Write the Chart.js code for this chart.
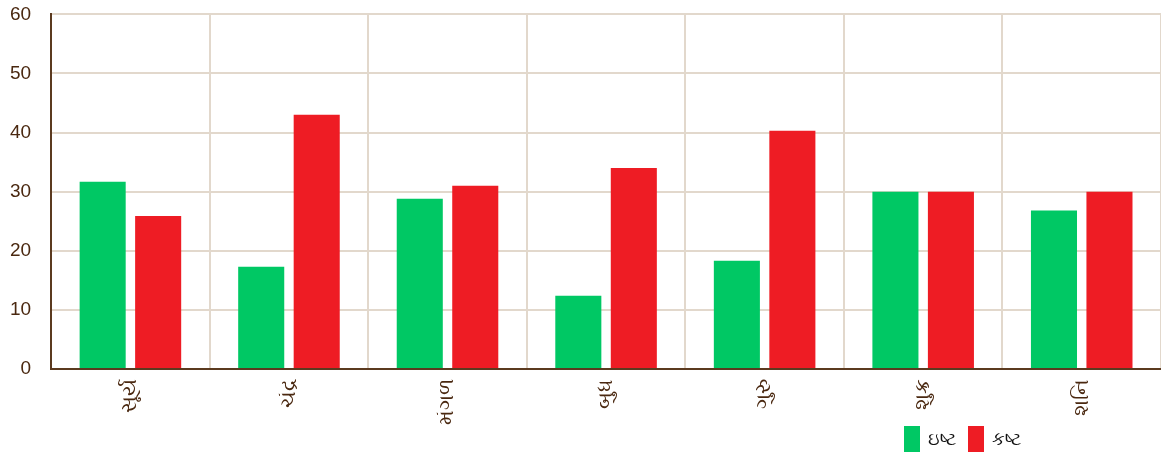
<!DOCTYPE html>
<html>
<head>
<meta charset="utf-8">
<script src="https://cdn.jsdelivr.net/npm/chart.js@4"></script>
<style>
    html, body { margin: 0; padding: 0; background: #ffffff; }
    .wrap { position: relative; width: 1161px; height: 455px; }
    .legend { position: absolute; left: 904px; top: 426px; display: flex; align-items: center; font-family: sans-serif; font-size: 18px; color: #111; }
    .legend .box { width: 16px; height: 26px; margin-right: 8px; }
    .legend .item { display: flex; align-items: center; margin-right: 12px; }
</style>
</head>
<body>
<div class="wrap">
    <canvas id="chart" width="1161" height="455"></canvas>
    <div class="legend" id="legend"></div>
</div>
<script>
'use strict';

// 데이터
const labels = ['સૂર્ય', 'ચંદ્ર', 'મંગળ', 'બુધ', 'ગુરુ', 'શુક્ર', 'શનિ'];
const ishtaValues = [31.7, 17.3, 28.8, 12.4, 18.3, 30.0, 26.8];
const kashtaValues = [25.9, 43.0, 31.0, 34.0, 40.3, 30.0, 30.0];
const seriesNames = ['ઇષ્ટ', 'કષ્ટ'];

const colors = {
    green: '#00c864',
    red: '#ee1c24',
    grid: '#e2d8cc',
    axis: '#5b3a1f',
    tick: '#4a2810'
};

// 범례 (HTML)
const legend = document.getElementById('legend');
[colors.green, colors.red].forEach((c, i) => {
    const item = document.createElement('div');
    item.className = 'item';
    item.innerHTML = `<span class="box" style="background:${c}"></span><span>${seriesNames[i]}</span>`;
    legend.appendChild(item);
});

new Chart(document.getElementById('chart'), {
    type: 'bar',
    data: {
        labels: labels,
        datasets: [{
            label: seriesNames[0],
            data: ishtaValues,
            backgroundColor: colors.green,
            categoryPercentage: 0.7,
            barPercentage: 0.83
        }, {
            label: seriesNames[1],
            data: kashtaValues,
            backgroundColor: colors.red,
            categoryPercentage: 0.7,
            barPercentage: 0.83
        }]
    },
    options: {
        responsive: false,
        animation: false,
        layout: {
            padding: { top: 3, right: 0, bottom: 20, left: 7 }
        },
        plugins: {
            legend: { display: false },
            tooltip: { enabled: false }
        },
        scales: {
            x: {
                grid: {
                    color: colors.grid,
                    lineWidth: 2,
                    drawTicks: false,
                    offset: true
                },
                border: { color: colors.axis, width: 2 },
                ticks: {
                    color: colors.tick,
                    font: { size: 21 },
                    minRotation: 90,
                    maxRotation: 90,
                    padding: 10
                }
            },
            y: {
                min: 0,
                max: 60,
                grid: {
                    color: colors.grid,
                    lineWidth: 2,
                    drawTicks: true,
                    tickLength: 17,
                    tickColor: 'rgba(0,0,0,0)'
                },
                border: { color: colors.axis, width: 2 },
                ticks: {
                    stepSize: 10,
                    color: colors.tick,
                    font: { family: 'Liberation Sans, Arial, sans-serif', size: 19 },
                    padding: 3
                }
            }
        }
    }
});
</script>
</body>
</html>
